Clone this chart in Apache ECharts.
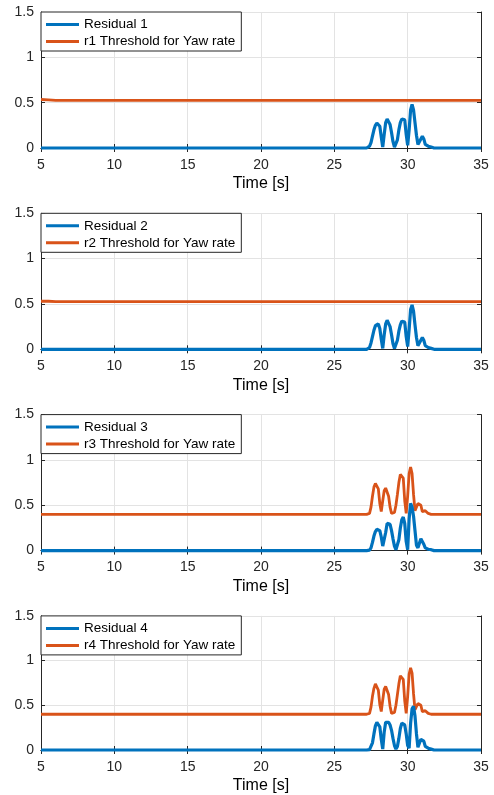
<!DOCTYPE html>
<html><head><meta charset="utf-8">
<script src="https://cdn.jsdelivr.net/npm/echarts@6/dist/echarts.min.js"></script>
<style>html,body{margin:0;padding:0;background:#fff}#c{width:494px;height:795px}</style>
</head><body><div id="c"></div>
<script>
// Shared time samples (s): 5, then 27.0..32.0 every 0.1, then 35
const time = [5,
  27.0,27.1,27.2,27.3,27.4,27.5,27.6,27.7,27.8,27.9,
  28.0,28.1,28.2,28.3,28.4,28.5,28.6,28.7,28.8,28.9,
  29.0,29.1,29.2,29.3,29.4,29.5,29.6,29.7,29.8,29.9,
  30.0,30.1,30.2,30.3,30.4,30.5,30.6,30.7,30.8,30.9,
  31.0,31.1,31.2,31.3,31.4,31.5,31.6,31.7,31.8,31.9,
  32.0, 35];

const residual1 = [0,
  0,0,0,0.005,0.02,0.06,0.13,0.2,0.25,0.275,
  0.28,0.24,0.12,0.01,0.15,0.28,0.32,0.31,0.26,0.17,
  0.07,0.01,0.02,0.09,0.2,0.28,0.32,0.34,0.31,0.15,
  0.03,0.2,0.42,0.48,0.42,0.28,0.14,0.04,0.03,0.1,
  0.13,0.1,0.04,0.02,0.02,0.015,0.01,0.005,0,0,
  0, 0];
const residual2 = [0,
  0,0,0,0.005,0.02,0.07,0.14,0.21,0.26,0.28,
  0.28,0.23,0.11,0.01,0.16,0.28,0.32,0.31,0.25,0.16,
  0.06,0.01,0.02,0.1,0.2,0.27,0.31,0.33,0.3,0.14,
  0.03,0.22,0.44,0.49,0.42,0.27,0.13,0.04,0.03,0.1,
  0.13,0.1,0.04,0.02,0.02,0.015,0.01,0.005,0,0,
  0, 0];
const residual3 = [0,
  0,0,0,0,0.005,0.03,0.09,0.16,0.21,0.235,
  0.24,0.22,0.15,0.05,0.04,0.2,0.3,0.32,0.29,0.22,
  0.13,0.05,0.01,0.02,0.12,0.25,0.34,0.37,0.3,0.1,
  0.01,0.35,0.52,0.48,0.38,0.22,0.06,0.03,0.08,0.13,
  0.13,0.07,0.03,0.02,0.015,0.01,0.01,0.005,0,0,
  0, 0];
const residual4 = [0,
  0,0,0,0,0.005,0.02,0.08,0.18,0.27,0.31,
  0.31,0.26,0.12,0.01,0.2,0.31,0.33,0.31,0.28,0.22,
  0.13,0.05,0.01,0.04,0.13,0.24,0.3,0.31,0.28,0.18,
  0.05,0.02,0.3,0.46,0.49,0.38,0.18,0.03,0.05,0.12,
  0.14,0.1,0.04,0.02,0.02,0.01,0.01,0.005,0,0,
  0, 0];
const threshold3 = [0.4,
  0.4,0.4,0.4,0.4,0.41,0.48,0.6,0.7,0.74,0.745,
  0.68,0.52,0.43,0.55,0.66,0.69,0.68,0.6,0.48,0.41,
  0.4,0.42,0.5,0.62,0.75,0.84,0.86,0.8,0.55,0.41,
  0.6,0.85,0.92,0.85,0.62,0.44,0.46,0.52,0.54,0.5,
  0.43,0.42,0.44,0.42,0.41,0.4,0.4,0.4,0.4,0.4,
  0.4, 0.4];
const threshold4 = [0.4,
  0.4,0.4,0.4,0.4,0.41,0.48,0.6,0.69,0.74,0.74,
  0.67,0.51,0.43,0.56,0.68,0.71,0.7,0.62,0.49,0.41,
  0.4,0.42,0.5,0.62,0.74,0.83,0.85,0.79,0.55,0.41,
  0.6,0.85,0.92,0.86,0.63,0.45,0.46,0.52,0.54,0.5,
  0.43,0.42,0.44,0.42,0.41,0.4,0.4,0.4,0.4,0.4,
  0.4, 0.4];

// Flat thresholds (panels 1 and 2)
const thrTime = [5, 5.5, 6, 8, 10, 15, 20, 25, 28, 30, 32, 35];
const threshold1 = [0.535, 0.53, 0.525, 0.525, 0.525, 0.525, 0.525, 0.525, 0.525, 0.525, 0.525, 0.525];
const threshold2 = [0.53, 0.53, 0.525, 0.525, 0.525, 0.525, 0.525, 0.525, 0.525, 0.525, 0.525, 0.525];

const residualNames = ['Residual 1', 'Residual 2', 'Residual 3', 'Residual 4'];
const thresholdNames = ['r1 Threshold for Yaw rate', 'r2 Threshold for Yaw rate', 'r3 Threshold for Yaw rate', 'r4 Threshold for Yaw rate'];
const xTicks = { min: 5, max: 35, interval: 5 };
const yTicks = { min: 0, max: 1.5, interval: 0.5 };
const xName = 'Time [s]';

const residuals = [residual1, residual2, residual3, residual4];
const thresholds = [
  { t: thrTime, v: threshold1 },
  { t: thrTime, v: threshold2 },
  { t: time, v: threshold3 },
  { t: time, v: threshold4 }
];

const BLUE = '#0072BD', ORANGE = '#D95319', AX = '#262626';
const FONT = 'Liberation Sans, Arial, sans-serif';
const pitch = 201.3, top0 = 12, gh = 136;

const grid = [], xAxis = [], yAxis = [], series = [], legend = [];
for (let i = 0; i < 4; i++) {
  const top = top0 + pitch * i;
  grid.push({ left: 41, width: 440, top: top, height: gh, show: false });
  const axLine = { show: true, lineStyle: { color: AX, width: 1 } };
  const tick = { show: true, inside: true, length: 4, lineStyle: { color: AX } };
  xAxis.push({
    type: 'value', gridIndex: i, min: xTicks.min, max: xTicks.max, interval: xTicks.interval,
    position: 'bottom', axisLine: axLine, axisTick: tick,
    axisLabel: { color: AX, fontSize: 14, fontFamily: FONT, margin: 10 },
    splitLine: { show: true, lineStyle: { color: '#e3e3e3', width: 1 } },
    name: xName, nameLocation: 'middle', nameGap: 28,
    nameTextStyle: { color: '#000', fontSize: 16, fontFamily: FONT }
  });
  xAxis.push({
    type: 'value', gridIndex: i, min: xTicks.min, max: xTicks.max, interval: xTicks.interval,
    position: 'top', axisLine: axLine, axisTick: tick, axisLabel: { show: false }, splitLine: { show: false }
  });
  yAxis.push({
    type: 'value', gridIndex: i, min: yTicks.min, max: yTicks.max, interval: yTicks.interval,
    position: 'left', axisLine: axLine, axisTick: tick,
    axisLabel: { color: AX, fontSize: 14, fontFamily: FONT, margin: 7 },
    splitLine: { show: true, lineStyle: { color: '#e3e3e3', width: 1 } }
  });
  yAxis.push({
    type: 'value', gridIndex: i, min: yTicks.min, max: yTicks.max, interval: yTicks.interval,
    position: 'right', axisLine: axLine, axisTick: tick, axisLabel: { show: false }, splitLine: { show: false }
  });
  const th = thresholds[i];
  series.push({
    name: thresholdNames[i], type: 'line', xAxisIndex: 2 * i, yAxisIndex: 2 * i,
    data: th.t.map((t, k) => [t, th.v[k]]), showSymbol: false, clip: false,
    lineStyle: { color: ORANGE, width: 2.8 }, itemStyle: { color: ORANGE }, z: 3, animation: false
  });
  series.push({
    name: residualNames[i], type: 'line', xAxisIndex: 2 * i, yAxisIndex: 2 * i,
    data: time.map((t, k) => [t, residuals[i][k]]), showSymbol: false, clip: false,
    lineStyle: { color: BLUE, width: 3.2 }, itemStyle: { color: BLUE }, z: 4, animation: false
  });
  legend.push({
    data: [residualNames[i], thresholdNames[i]], left: 41, top: top, orient: 'vertical',
    backgroundColor: '#fff', borderColor: AX, borderWidth: 1, padding: [5, 6, 2, 5],
    itemWidth: 33, itemHeight: 3, itemGap: 2, icon: 'rect', selectedMode: false,
    textStyle: { fontSize: 13.5, lineHeight: 15, color: '#000', fontFamily: FONT }, z: 10
  });
}

const chart = echarts.init(document.getElementById('c'), null, { renderer: 'canvas' });
chart.setOption({ backgroundColor: '#fff', animation: false, grid, xAxis, yAxis, series, legend });
</script>
</body></html>
